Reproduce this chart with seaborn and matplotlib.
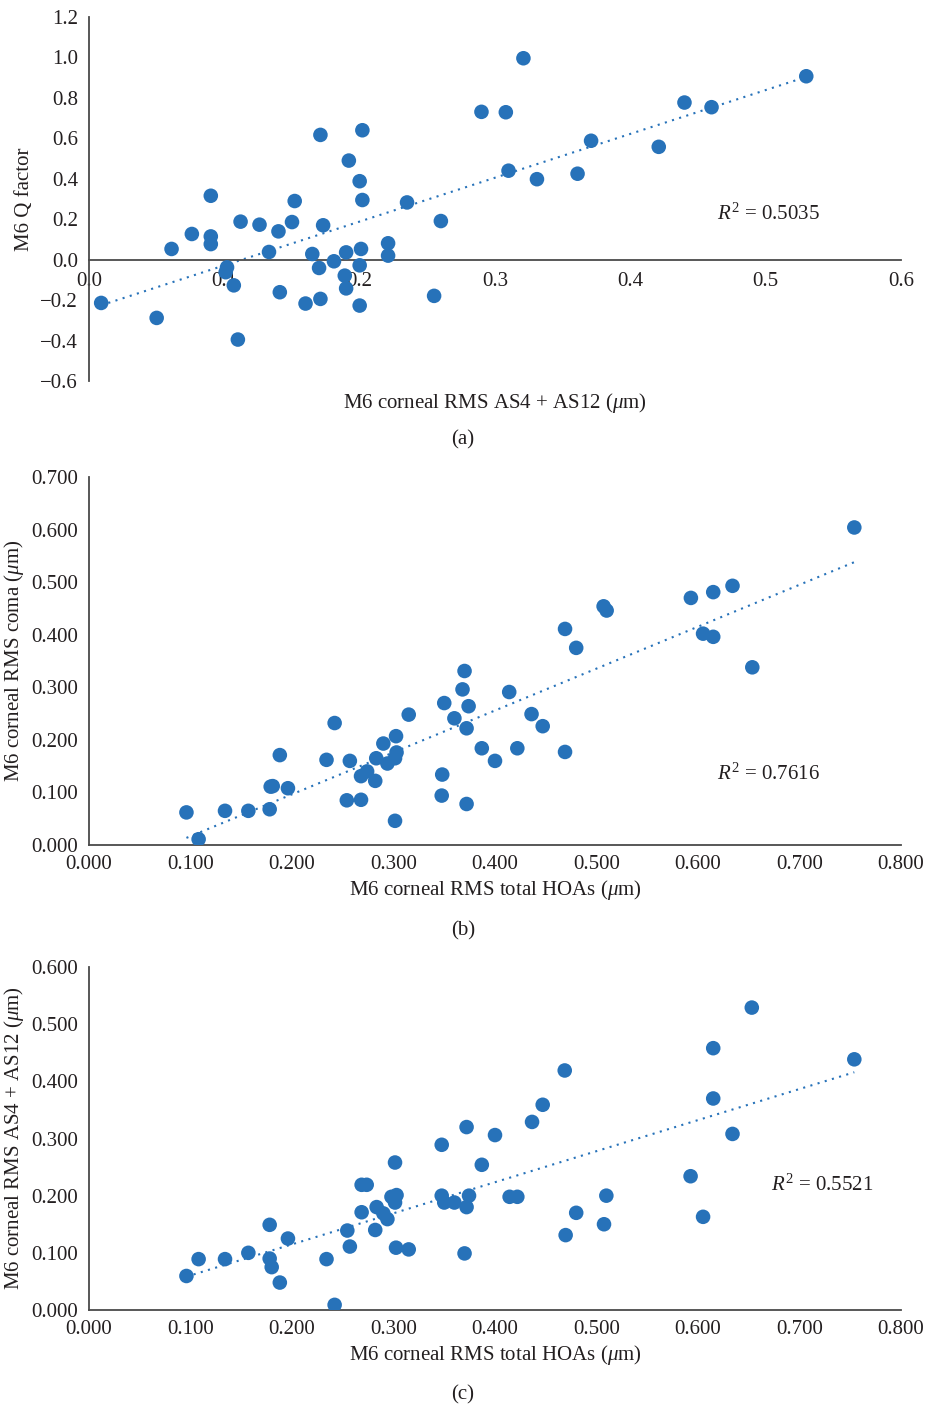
import matplotlib
matplotlib.use("Agg")
import matplotlib.pyplot as plt
import seaborn as sns
import numpy as np

# ---------------- data ----------------
# (a) M6 corneal RMS AS4 + AS12 vs M6 Q factor
a_x = [0.009, 0.050, 0.061, 0.076, 0.090, 0.090, 0.090, 0.102, 0.101, 0.107, 0.110,
       0.112, 0.126, 0.133, 0.140, 0.141, 0.150, 0.152, 0.160, 0.165, 0.170, 0.171,
       0.171, 0.173, 0.181, 0.190, 0.189, 0.190, 0.192, 0.200, 0.202, 0.202, 0.201,
       0.200, 0.200, 0.221, 0.221, 0.235, 0.255, 0.260, 0.290, 0.308, 0.310, 0.321,
       0.331, 0.361, 0.371, 0.421, 0.440, 0.460, 0.530]
a_y = [-0.214, -0.288, 0.053, 0.127, 0.316, 0.115, 0.077, -0.038, -0.062, -0.127, -0.395,
       0.188, 0.173, 0.038, 0.140, -0.161, 0.186, 0.290, -0.217, 0.028, -0.041, 0.617,
       -0.194, 0.170, -0.008, 0.036, -0.079, -0.142, 0.490, 0.388, 0.640, 0.295, 0.053,
       -0.028, -0.227, 0.081, 0.020, 0.283, -0.179, 0.191, 0.731, 0.729, 0.440, 0.996,
       0.398, 0.425, 0.588, 0.558, 0.777, 0.754, 0.907]

# (b) M6 corneal RMS total HOAs vs M6 corneal RMS coma
b_x = [0.096, 0.108, 0.134, 0.157, 0.178, 0.179, 0.181, 0.188, 0.196, 0.234, 0.242,
       0.254, 0.257, 0.268, 0.268, 0.274, 0.282, 0.283, 0.290, 0.294, 0.3025, 0.303,
       0.3015, 0.3015, 0.315, 0.348, 0.3475, 0.350, 0.360, 0.370, 0.368, 0.374, 0.372,
       0.372, 0.387, 0.400, 0.414, 0.422, 0.436, 0.447, 0.469, 0.469, 0.480, 0.507,
       0.510, 0.593, 0.615, 0.634, 0.605, 0.615, 0.6535, 0.754]
b_y = [0.062, 0.011, 0.065, 0.065, 0.068, 0.111, 0.112, 0.171, 0.108, 0.162, 0.232,
       0.085, 0.160, 0.086, 0.131, 0.140, 0.122, 0.165, 0.193, 0.155, 0.207, 0.176,
       0.165, 0.046, 0.248, 0.134, 0.094, 0.270, 0.241, 0.331, 0.296, 0.264, 0.222,
       0.078, 0.184, 0.160, 0.291, 0.184, 0.249, 0.226, 0.177, 0.411, 0.375, 0.454,
       0.446, 0.470, 0.481, 0.493, 0.402, 0.396, 0.338, 0.604]

# (c) M6 corneal RMS total HOAs vs M6 corneal RMS AS4 + AS12
c_x = [0.096, 0.108, 0.134, 0.157, 0.178, 0.178, 0.180, 0.188, 0.196, 0.234, 0.242,
       0.2545, 0.257, 0.2686, 0.2736, 0.2686, 0.282, 0.2834, 0.290, 0.294, 0.3015, 0.298,
       0.303, 0.3015, 0.3025, 0.315, 0.3475, 0.3475, 0.350, 0.360, 0.372, 0.3744, 0.372,
       0.370, 0.387, 0.400, 0.4144, 0.422, 0.4365, 0.447, 0.4687, 0.480, 0.4696, 0.5074,
       0.5097, 0.5927, 0.605, 0.615, 0.615, 0.634, 0.653, 0.754]
c_y = [0.0595, 0.089, 0.089, 0.100, 0.149, 0.090, 0.075, 0.048, 0.125, 0.089, 0.009,
       0.139, 0.111, 0.219, 0.219, 0.171, 0.140, 0.180, 0.169, 0.159, 0.258, 0.198,
       0.201, 0.188, 0.109, 0.106, 0.289, 0.200, 0.188, 0.188, 0.320, 0.200, 0.180,
       0.099, 0.254, 0.306, 0.198, 0.198, 0.329, 0.359, 0.419, 0.170, 0.131, 0.150,
       0.200, 0.234, 0.163, 0.458, 0.370, 0.308, 0.529, 0.4385]

a_xticks = [0.0, 0.1, 0.2, 0.3, 0.4, 0.5, 0.6]
a_yticks = [-0.6, -0.4, -0.2, 0.0, 0.2, 0.4, 0.6, 0.8, 1.0, 1.2]
bc_xticks = [0.0, 0.1, 0.2, 0.3, 0.4, 0.5, 0.6, 0.7, 0.8]
b_yticks = [0.0, 0.1, 0.2, 0.3, 0.4, 0.5, 0.6, 0.7]
c_yticks = [0.0, 0.1, 0.2, 0.3, 0.4, 0.5, 0.6]

r2_labels = ["0.5035", "0.7616", "0.5521"]

# ---------------- style ----------------
sns.set_theme(style="white")
plt.rcParams["font.family"] = ["Liberation Serif", "DejaVu Serif"]
plt.rcParams["mathtext.fontset"] = "custom"
plt.rcParams["mathtext.rm"] = "Liberation Serif"
plt.rcParams["mathtext.it"] = "Liberation Serif:italic"
plt.rcParams["mathtext.bf"] = "Liberation Serif:bold"

BLUE = "#2772b9"
TXT = "#231f20"
SPINE = "#4a4a4a"
FS = 15

W, H = 926, 1410
fig = plt.figure(figsize=(W / 100, H / 100), dpi=100)


def ax_px(left, top, right, bottom):
    return fig.add_axes([left / W, 1 - bottom / H, (right - left) / W, (bottom - top) / H])


def fmt_num(v, nd):
    s = f"{v:.{nd}f}"
    return s.replace("-", "\u2212")


def style(ax, xticks, yticks, nd):
    ax.set_xticks(xticks)
    ax.set_yticks(yticks)
    ax.set_xticklabels([fmt_num(v, nd) for v in xticks])
    ax.set_yticklabels([fmt_num(v, nd) for v in yticks])
    for s in ["top", "right"]:
        ax.spines[s].set_visible(False)
    for s in ["left", "bottom"]:
        ax.spines[s].set_color(SPINE)
        ax.spines[s].set_linewidth(1.3)
    ax.tick_params(axis="both", length=0, labelsize=FS, colors=TXT)
    ax.tick_params(axis="x", pad=7)
    ax.tick_params(axis="y", pad=8)
    ax.set_facecolor("none")


def scatter_fit(ax, x, y):
    sns.regplot(x=np.array(x), y=np.array(y), ax=ax, ci=None, truncate=True,
                scatter_kws=dict(s=110, color=BLUE, edgecolor="none", alpha=1, zorder=3),
                line_kws=dict(color=BLUE, lw=1.5, ls=(0, (1, 2.6)), zorder=2))


mu = r"($\mu$m)"

# ---- (a) ----
ax1 = ax_px(89, 17, 901, 381)
scatter_fit(ax1, a_x, a_y)
ax1.set_xlim(0, 0.6)
ax1.set_ylim(-0.6, 1.2)
style(ax1, a_xticks, a_yticks, 1)
ax1.spines["bottom"].set_position(("data", 0))
ax1.tick_params(axis="x", pad=9)
ax1.set_xlabel("M6 corneal RMS AS4 + AS12 " + mu, fontsize=FS, color=TXT, va="center")
ax1.xaxis.set_label_coords(0.5, (381 - 403) / 364)
ax1.set_ylabel("M6 Q factor", fontsize=FS, color=TXT, va="center")
ax1.yaxis.set_label_coords((25 - 89) / 812, 0.5)
ax1.text(0.464, 0.227, r"$R^2$ = " + r2_labels[0], fontsize=FS, color=TXT, va="center")
fig.text(463 / W, 1 - 440 / H, "(a)", fontsize=FS, color=TXT, ha="center", va="center")

# ---- (b) ----
ax2 = ax_px(89, 477, 901, 845)
scatter_fit(ax2, b_x, b_y)
ax2.set_xlim(0, 0.8)
ax2.set_ylim(0, 0.7)
style(ax2, bc_xticks, b_yticks, 3)
ax2.set_xlabel("M6 corneal RMS total HOAs " + mu, fontsize=FS, color=TXT, va="center")
ax2.xaxis.set_label_coords(0.5, (845 - 890) / 368)
ax2.set_ylabel("M6 corneal RMS coma " + mu, fontsize=FS, color=TXT, va="center")
ax2.yaxis.set_label_coords((14 - 89) / 812, 0.5)
ax2.text(0.619, 0.135, r"$R^2$ = " + r2_labels[1], fontsize=FS, color=TXT, va="center")
fig.text(463 / W, 1 - 931 / H, "(b)", fontsize=FS, color=TXT, ha="center", va="center")

# ---- (c) ----
ax3 = ax_px(89, 967, 901, 1310)
scatter_fit(ax3, c_x, c_y)
ax3.set_xlim(0, 0.8)
ax3.set_ylim(0, 0.6)
style(ax3, bc_xticks, c_yticks, 3)
ax3.set_xlabel("M6 corneal RMS total HOAs " + mu, fontsize=FS, color=TXT, va="center")
ax3.xaxis.set_label_coords(0.5, (1310 - 1355) / 343)
ax3.set_ylabel("M6 corneal RMS AS4 + AS12 " + mu, fontsize=FS, color=TXT, va="center")
ax3.yaxis.set_label_coords((14 - 89) / 812, 0.5)
ax3.text(0.672, 0.219, r"$R^2$ = " + r2_labels[2], fontsize=FS, color=TXT, va="center")
fig.text(463 / W, 1 - 1395 / H, "(c)", fontsize=FS, color=TXT, ha="center", va="center")

fig.savefig("out.png", dpi=100, facecolor="white")
